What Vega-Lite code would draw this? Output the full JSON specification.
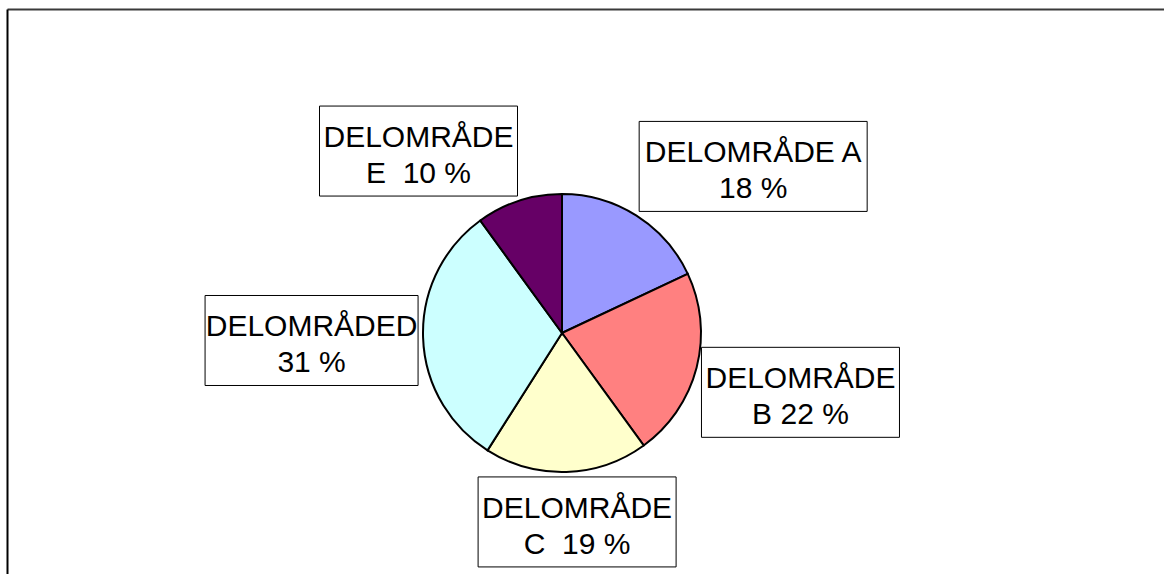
{
  "$schema": "https://vega.github.io/schema/vega-lite/v6.json",
  "width": 1157,
  "height": 565,
  "autosize": "none",
  "padding": {"left": 7, "top": 9, "right": 0, "bottom": 0},
  "background": "white",
  "data": {
    "values": [
      {"omrade": "A", "value": 18, "label": ["DELOMRÅDE A", "18 %"]},
      {"omrade": "B", "value": 22, "label": ["DELOMRÅDE", "B 22 %"]},
      {"omrade": "C", "value": 19, "label": ["DELOMRÅDE", "C\u00a0 19 %"]},
      {"omrade": "D", "value": 31, "label": ["DELOMRÅDED", "31 %"]},
      {"omrade": "E", "value": 10, "label": ["DELOMRÅDE", "E\u00a0 10 %"]}
    ]
  },
  "layer": [
    {
      "mark": {"type": "arc", "radius": 139, "stroke": "#000000", "strokeWidth": 2},
      "encoding": {
        "theta": {"field": "value", "type": "quantitative", "stack": true},
        "order": {"field": "omrade", "type": "nominal", "sort": "ascending"},
        "color": {
          "field": "omrade",
          "type": "nominal",
          "legend": null,
          "scale": {
            "domain": ["A", "B", "C", "D", "E"],
            "range": ["#9999FF", "#FF8080", "#FFFFCC", "#CCFFFF", "#660066"]
          }
        },
        "x": {
          "datum": 0,
          "type": "quantitative",
          "scale": {"domain": [-555, 602], "nice": false, "zero": false},
          "axis": {"orient": "top", "domainColor": "#3a3a3a", "domainWidth": 2, "ticks": false, "labels": false, "grid": false, "title": null}
        },
        "y": {
          "datum": 0,
          "type": "quantitative",
          "scale": {"domain": [-324, 241], "reverse": true, "nice": false, "zero": false},
          "axis": {"orient": "left", "domainColor": "#000000", "domainWidth": 2, "ticks": false, "labels": false, "grid": false, "title": null}
        }
      }
    },
    {
      "transform": [
        {"joinaggregate": [{"op": "sum", "field": "value", "as": "total"}]},
        {"stack": "value", "groupby": [], "sort": [{"field": "omrade", "order": "ascending"}], "as": ["v0", "v1"]},
        {"calculate": "PI * (datum.v0 + datum.v1) / datum.total", "as": "ang"},
        {"calculate": "198 + 15 * (length(datum.label[0]) - 9)", "as": "w"},
        {"calculate": "144 * sin(datum.ang) + datum.w / 2 * clamp(3.4 * sin(datum.ang), -1, 1)", "as": "cx"},
        {"calculate": "-144 * cos(datum.ang) + 45 * clamp(-2.1 * cos(datum.ang), -1, 1)", "as": "cy"},
        {"calculate": "datum.cx - datum.w / 2", "as": "bx"},
        {"calculate": "datum.cx + datum.w / 2", "as": "bx2"},
        {"calculate": "datum.cy - 45", "as": "by"},
        {"calculate": "datum.cy + 45", "as": "by2"}
      ],
      "layer": [
        {
          "mark": {"type": "rect", "fill": "#ffffff", "stroke": "#000000", "strokeWidth": 1},
          "encoding": {
            "x": {"field": "bx", "type": "quantitative", "title": null,
              "axis": {"orient": "top", "domainColor": "#3a3a3a", "domainWidth": 2, "ticks": false, "labels": false, "grid": false, "title": null}},
            "x2": {"field": "bx2"},
            "y": {"field": "by", "type": "quantitative", "title": null,
              "axis": {"orient": "left", "domainColor": "#000000", "domainWidth": 2, "ticks": false, "labels": false, "grid": false, "title": null}},
            "y2": {"field": "by2"}
          }
        },
        {
          "mark": {"type": "text", "align": "center", "baseline": "middle", "font": "Liberation Sans", "fontSize": 30, "lineHeight": 36, "dy": -13, "color": "#000000"},
          "encoding": {
            "text": {"field": "label"},
            "x": {"field": "cx", "type": "quantitative", "title": null,
              "axis": {"orient": "top", "domainColor": "#3a3a3a", "domainWidth": 2, "ticks": false, "labels": false, "grid": false, "title": null}},
            "y": {"field": "cy", "type": "quantitative", "title": null,
              "axis": {"orient": "left", "domainColor": "#000000", "domainWidth": 2, "ticks": false, "labels": false, "grid": false, "title": null}}
          }
        }
      ]
    }
  ],
  "config": {"view": {"stroke": null}}
}
